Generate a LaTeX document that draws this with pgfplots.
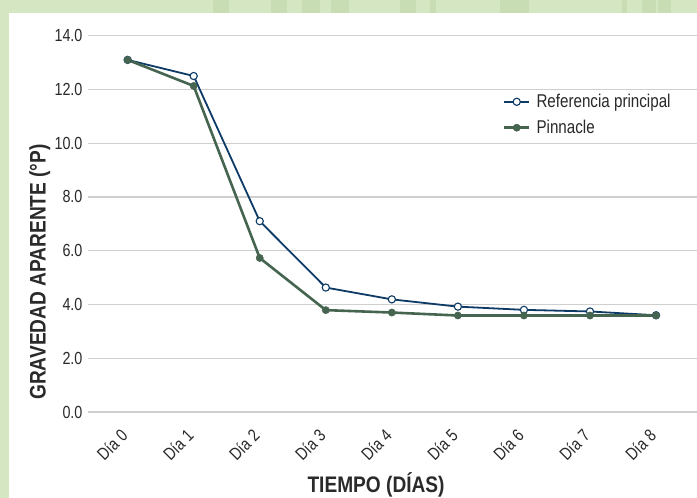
\documentclass[border=0pt]{standalone}
\usepackage{pgfplots}
\pgfplotsset{compat=1.18}
\usepackage{fontspec}
\setmainfont{Liberation Sans}[FakeStretch=0.82]
\newfontfamily\labelfont{Liberation Sans}[FakeStretch=0.85]
\definecolor{bggreen}{HTML}{D5E6C3}
\definecolor{stripe}{HTML}{C9DDB5}
\definecolor{refblue}{HTML}{0D3B66}
\definecolor{pingreen}{HTML}{466550}
\definecolor{gridgray}{HTML}{CFCFCF}
\definecolor{txt}{HTML}{2A2A2A}
\begin{document}
\begin{tikzpicture}
\fill[bggreen] (0pt,0pt) rectangle (697pt,498pt);
\foreach \a/\b in {213/229,271/287,302/320,331/349,400/416,430/436,500/529,622/627,642/656,658/671}{
  \fill[stripe] (\a pt,485pt) rectangle (\b pt,498pt);
}
\fill[white] (9pt,0pt) rectangle (697pt,485pt);
\useasboundingbox (0pt,0pt) rectangle (697pt,498pt);
\begin{axis}[
  at={(88pt,86pt)}, anchor=south west,
  scale only axis, width=609pt, height=376.3pt,
  xmin=-0.6, xmax=8.62, ymin=0, ymax=14,
  axis line style={draw=none},
  major tick length=0pt,
  ytick={0,2,...,14},
  xtick={0,...,8},
  xticklabels={Día 0,Día 1,Día 2,Día 3,Día 4,Día 5,Día 6,Día 7,Día 8},
  ymajorgrids, xmajorgrids=false,
  grid style={gridgray, line width=1.1pt},
  /pgf/number format/assume math mode=true,
  yticklabel={\pgfmathprintnumber[fixed,fixed zerofill,precision=1]{\tick}},
  yticklabel style={font=\fontsize{17.5}{20}\selectfont, text=txt, xshift=-2pt},
  xticklabel style={font=\fontsize{17.5}{20}\selectfont, text=txt, xshift=-8pt, yshift=-11pt, rotate=45, anchor=north east},
  xlabel={TIEMPO (DÍAS)},
  ylabel={GRAVEDAD APARENTE (°P)},
  every axis x label/.style={at={(axis description cs:0.473,-0.194)}, anchor=center, font=\labelfont\bfseries\fontsize{22.5}{26}\selectfont, text=txt},
  every axis y label/.style={at={(axis description cs:-0.079,0.372)}, anchor=center, rotate=90, font=\labelfont\bfseries\fontsize{22.5}{26}\selectfont, text=txt},
  legend style={at={(axis description cs:0.681,0.85)}, anchor=north west, draw=none, fill=none, font=\fontsize{18.5}{21}\selectfont, text=txt, row sep=7pt, column sep=4pt, inner sep=0pt},
  legend cell align=left,
  legend image code/.code={\draw[mark repeat=2,mark phase=2,#1] plot coordinates {(0pt,0pt) (12.5pt,0pt) (25pt,0pt)};},
  clip=false,
]
\addplot[color=refblue, line width=1.8pt, mark=*, mark size=3.6pt, mark options={fill=white, draw=refblue, line width=1.1pt}]
  coordinates {(0,13.1) (1,12.5) (2,7.1) (3,4.63) (4,4.19) (5,3.92) (6,3.80) (7,3.74) (8,3.6)};
\addlegendentry{Referencia principal}
\addplot[color=pingreen, line width=2.6pt, mark=*, mark size=3.6pt, mark options={fill=pingreen, draw=pingreen, line width=0.5pt}]
  coordinates {(0,13.1) (1,12.13) (2,5.73) (3,3.79) (4,3.70) (5,3.59) (6,3.59) (7,3.59) (8,3.59)};
\addlegendentry{Pinnacle}
\end{axis}
\end{tikzpicture}
\end{document}
